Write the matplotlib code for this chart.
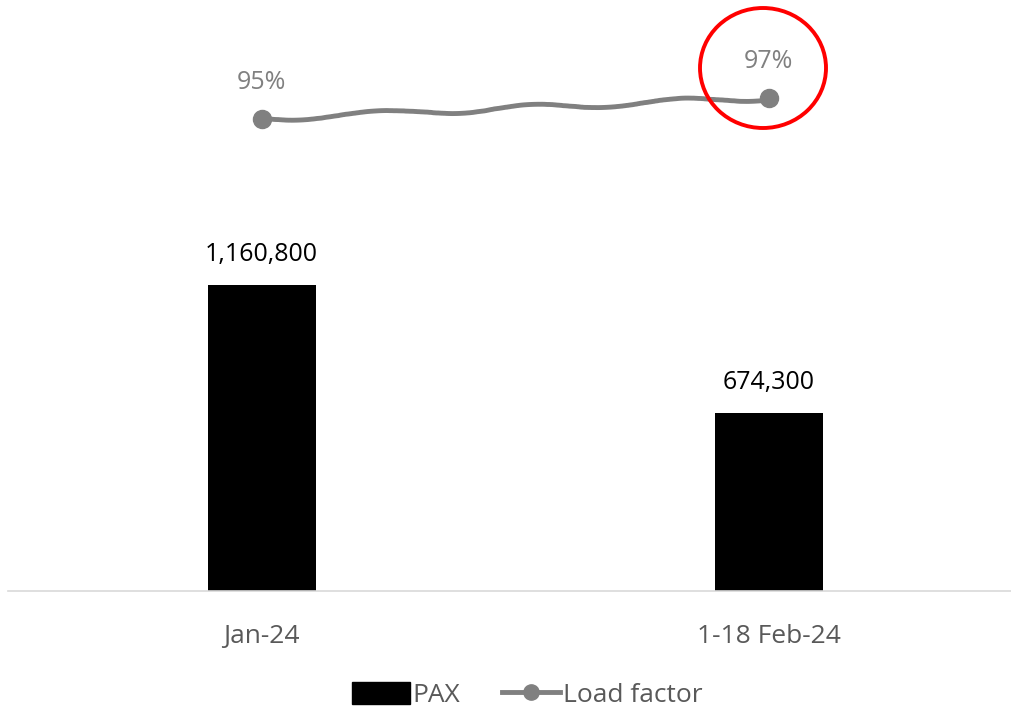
import matplotlib
matplotlib.use("Agg")
import matplotlib.pyplot as plt
from matplotlib.patches import Ellipse, Patch
from matplotlib.lines import Line2D

categories = ["Jan-24", "1-18 Feb-24"]
pax = [1160800, 674300]
load_factor = [0.95, 0.97]
pax_labels = ["1,160,800", "674,300"]
lf_labels = ["95%", "97%"]

plt.rcParams['font.family'] = ['Open Sans', 'DejaVu Sans']

W, H = 1012, 710
fig = plt.figure(figsize=(W / 100, H / 100), dpi=100)
ax = fig.add_axes([8 / W, (H - 591) / H, 1004 / W, 591 / H])
ax2 = ax.twinx()

x = list(range(len(categories)))
ax.bar(x, pax, width=0.213, color="black", zorder=2)
ax.set_xlim(-0.5, 1.48)
ax.set_ylim(0, 2242000)
for xi, v, lab in zip(x, pax, pax_labels):
    ax.annotate(lab, (xi, v), xytext=(0, 13), textcoords="offset points",
                ha="center", va="bottom", fontsize=18, color="black")

line, = ax2.plot(x, load_factor, color="#808080", lw=3.5, marker="o", ms=13,
                 solid_capstyle="round", zorder=3)
line.set_sketch_params(scale=3.0, length=170, randomness=2)
ax2.set_ylim(0.5, 1.063)
for xi, v, lab in zip(x, load_factor, lf_labels):
    ax2.annotate(lab, (xi, v), xytext=(0, 17), textcoords="offset points",
                 ha="center", va="bottom", fontsize=18, color="#808080")

for a in (ax, ax2):
    for s in ("top", "right", "left"):
        a.spines[s].set_visible(False)
    a.set_yticks([])
ax.spines["bottom"].set_color("#d9d9d9")
ax.spines["bottom"].set_linewidth(1.2)
ax2.spines["bottom"].set_visible(False)
ax.set_xticks(x)
ax.set_xticklabels(categories, fontsize=19, color="#595959")
ax.tick_params(axis="x", length=0, pad=24)

# red hand-drawn circle annotation
ell = Ellipse((763 / W, (H - 68) / H), 126 / W, 120 / H, transform=fig.transFigure,
              fill=False, edgecolor="#ff0000", lw=2.8, zorder=10)
fig.patches.append(ell)

handles = [Patch(facecolor="black", edgecolor="black"),
           Line2D([0], [0], color="#808080", lw=3.5, marker="o", ms=11)]
fig.legend(handles, ["PAX", "Load factor"], loc="center", bbox_to_anchor=(527 / W, (H - 695) / H),
           ncol=2, frameon=False, fontsize=19, labelcolor="#595959",
           handlelength=2.2, handletextpad=0.1, columnspacing=1.6, handleheight=0.9)

fig.savefig("out.png", dpi=100)
